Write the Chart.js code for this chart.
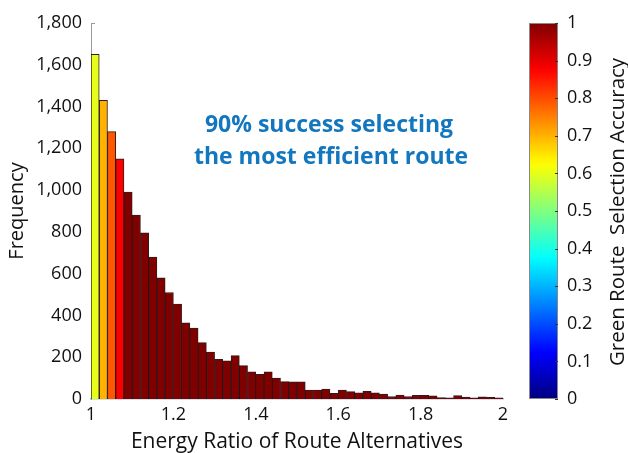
<!DOCTYPE html>
<html>
<head>
<meta charset="utf-8">
<script src="https://cdn.jsdelivr.net/npm/chart.js@4.4.1/dist/chart.umd.min.js"></script>
<style>
  html, body { margin: 0; padding: 0; background: #fff; }
  #wrap { width: 628px; height: 453px; position: relative; }
</style>
</head>
<body>
<div id="wrap"><canvas id="hist"></canvas></div>
<script>
// ─── Histogram of energy ratios, coloured by green-route selection accuracy ───

const binStart = 1.0;
const binWidth = 0.02;

// frequency per bin (50 bins from 1.00 to 2.00)
const frequency = [
    1650, 1430, 1280, 1150, 990, 880, 795, 680, 580, 510,
    455, 365, 340, 270, 225, 190, 183, 208, 160, 130,
    118, 130, 100, 83, 82, 82, 43, 43, 48, 27,
    43, 35, 30, 37, 30, 23, 12, 19, 12, 17,
    17, 15, 7, 6, 16, 9, 6, 10, 8, 6
];

// selection accuracy per bin (drives bar colour)
const accuracy = [
    0.6, 0.7, 0.79, 0.88, 1, 1, 1, 1, 1, 1,
    1, 1, 1, 1, 1, 1, 1, 1, 1, 1,
    1, 1, 1, 1, 1, 1, 1, 1, 1, 1,
    1, 1, 1, 1, 1, 1, 1, 1, 1, 1,
    1, 1, 1, 1, 1, 1, 1, 1, 1, 1
];

const xTicks = [1, 1.2, 1.4, 1.6, 1.8, 2];
const annotation = ['90% success selecting', 'the most efficient route'];
const colorbarTitle = 'Green Route  Selection Accuracy';

const FONT = '"Open Sans"';

// matlab "jet" colour map
function jet(t) {
    const c = v => Math.round(255 * Math.max(0, Math.min(1, v)));
    const r = c(1.5 - Math.abs(4 * t - 3));
    const g = c(1.5 - Math.abs(4 * t - 2));
    const b = c(1.5 - Math.abs(4 * t - 1));
    return `rgb(${r},${g},${b})`;
}

const points = frequency.map((f, i) => ({ x: binStart + binWidth * (i + 0.5), y: f }));

// colour bar + annotation + rotated colorbar title
const extras = {
    id: 'extras',
    afterDraw(chart) {
        const ctx = chart.ctx;
        const cb = chart.scales.cb;
        const top = cb.getPixelForValue(1);
        const bottom = cb.getPixelForValue(0);
        const x0 = 529, x1 = 558;

        const grad = ctx.createLinearGradient(0, bottom, 0, top);
        for (let t = 0; t <= 1.0001; t += 0.02) grad.addColorStop(Math.min(t, 1), jet(t));
        ctx.save();
        ctx.fillStyle = grad;
        ctx.fillRect(x0, top, x1 - x0, bottom - top);
        ctx.strokeStyle = '#888';
        ctx.lineWidth = 1;
        ctx.strokeRect(x0 + 0.5, top + 0.5, x1 - x0 - 1, bottom - top - 1);
        // small tick marks on the bar's right edge
        ctx.strokeStyle = '#333';
        cb.ticks.forEach(tk => {
            const y = Math.round(cb.getPixelForValue(tk.value)) + 0.5;
            ctx.beginPath();
            ctx.moveTo(x1 - 3, y);
            ctx.lineTo(x1, y);
            ctx.stroke();
        });

        // little tick at the top of the y axis
        const yTop = Math.round(chart.scales.y.getPixelForValue(1800)) + 0.5;
        ctx.strokeStyle = '#999';
        ctx.beginPath();
        ctx.moveTo(chart.chartArea.left, yTop);
        ctx.lineTo(chart.chartArea.left + 4, yTop);
        ctx.stroke();

        // colour bar title, reading bottom-to-top
        ctx.translate(618, (top + bottom) / 2 + 1);
        ctx.rotate(-Math.PI / 2);
        ctx.fillStyle = '#111';
        ctx.font = `20.5px ${FONT}`;
        ctx.textAlign = 'center';
        ctx.textBaseline = 'middle';
        ctx.fillText(colorbarTitle, 0, 0);
        ctx.restore();

        // annotation
        ctx.save();
        ctx.fillStyle = '#1277bf';
        ctx.font = `bold 23px ${FONT}`;
        ctx.textAlign = 'center';
        ctx.textBaseline = 'alphabetic';
        ctx.fillText(annotation[0], 329, 132);
        ctx.fillText(annotation[1], 331, 164);
        ctx.restore();
    }
};

new Chart(document.getElementById('hist').getContext('2d'), {
    type: 'bar',
    data: {
        datasets: [{
            label: 'Frequency',
            data: points,
            backgroundColor: accuracy.map(a => jet(a)),
            borderColor: 'rgba(30,0,0,0.9)',
            borderWidth: 1,
            borderSkipped: 'bottom',
            barPercentage: 1,
            categoryPercentage: 1,
            yAxisID: 'y'
        }, {
            // empty dataset so the colour-bar axis is laid out
            type: 'line',
            label: 'accuracy',
            data: [],
            yAxisID: 'cb'
        }]
    },
    options: {
        responsive: true,
        maintainAspectRatio: false,
        animation: false,
        layout: { padding: { top: 23, left: 0, right: 0, bottom: 0 } },
        plugins: { legend: { display: false }, tooltip: { enabled: false } },
        scales: {
            x: {
                type: 'linear',
                min: 1, max: 2,
                offset: false,
                afterFit: s => { s.height = 54; },
                afterBuildTicks: s => { s.ticks = xTicks.map(v => ({ value: v })); },
                grid: { display: false, drawTicks: false },
                border: { color: '#9cc3e0', width: 1.5 },
                ticks: {
                    color: '#111',
                    font: { family: FONT, size: 18 },
                    padding: 5,
                    maxRotation: 0,
                    callback: v => String(v)
                },
                title: {
                    display: true,
                    text: 'Energy Ratio of Route Alternatives',
                    color: '#111',
                    font: { family: FONT, size: 21, lineHeight: 1.0 },
                    padding: { top: 0, bottom: 0 }
                }
            },
            y: {
                position: 'left',
                min: 0, max: 1800,
                afterFit: s => { s.width = 91; },
                grid: { display: false, drawTicks: false },
                border: { color: '#999', width: 1 },
                ticks: {
                    stepSize: 200,
                    color: '#111',
                    font: { family: FONT, size: 18 },
                    padding: 9,
                    callback: v => v.toLocaleString('en-US')
                },
                title: {
                    display: true,
                    text: 'Frequency',
                    color: '#111',
                    font: { family: FONT, size: 20 },
                    padding: { top: 5, bottom: 0 }
                }
            },
            cb: {
                position: 'right',
                min: 0, max: 1,
                afterFit: s => {
                    s.width = 125;
                    // keep the big label offset from inflating the vertical padding
                    s.paddingTop = 12;
                    s.paddingBottom = 12;
                },
                grid: { display: false, drawTicks: false },
                border: { display: false },
                ticks: {
                    stepSize: 0.1,
                    color: '#111',
                    font: { family: FONT, size: 18 },
                    padding: 64,
                    callback: v => String(Math.round(v * 10) / 10)
                }
            }
        }
    },
    plugins: [extras]
});
</script>
</body>
</html>
